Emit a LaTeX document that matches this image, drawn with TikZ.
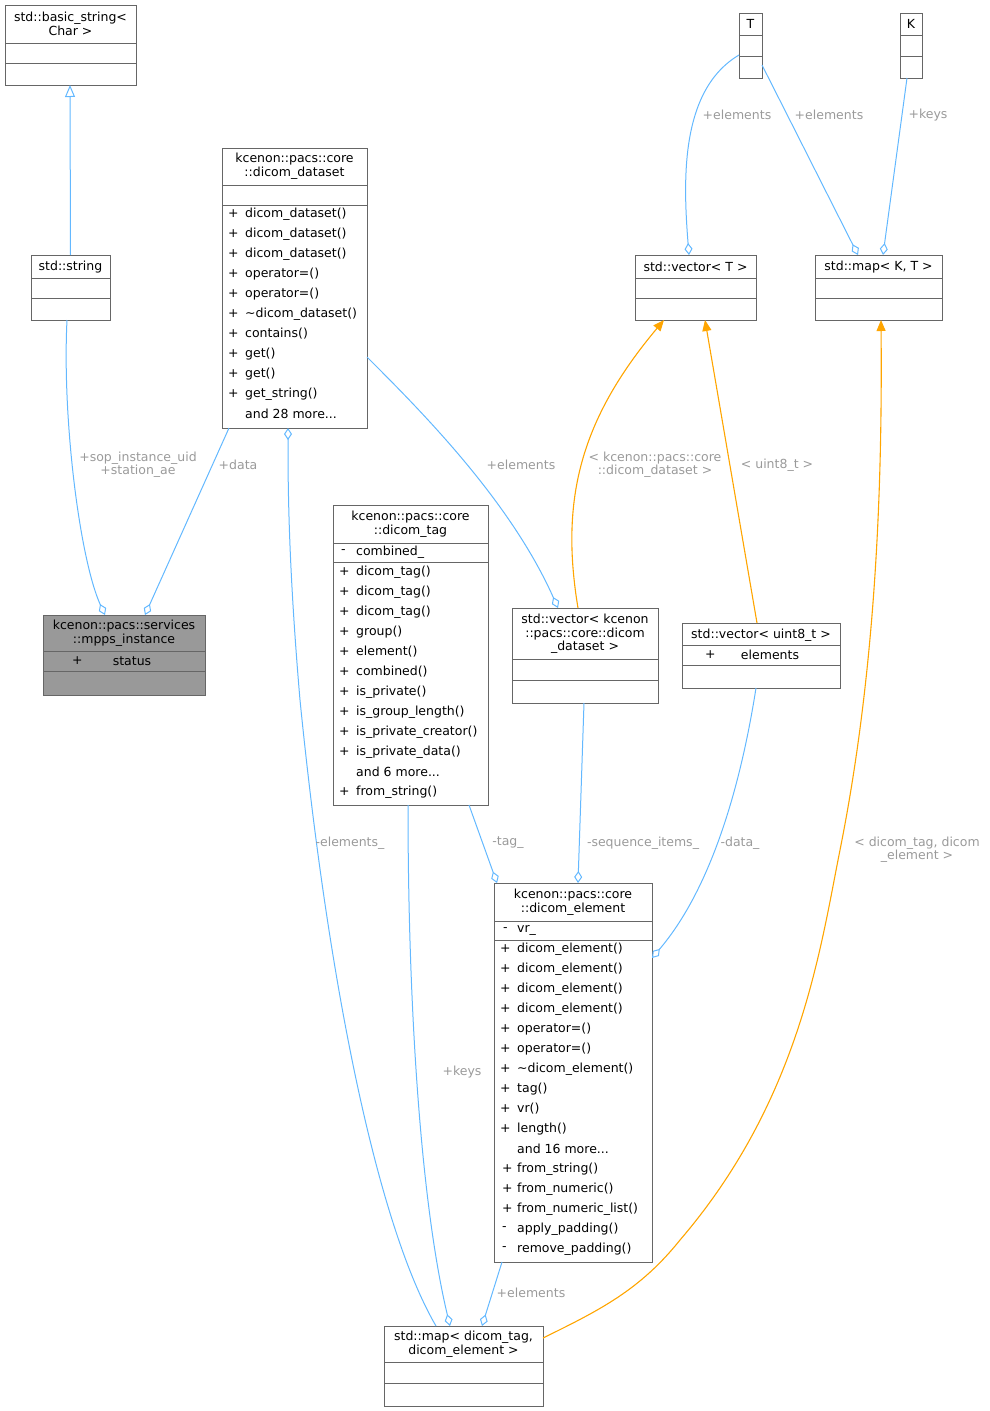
\documentclass[tikz,border=0pt]{standalone}
\usepackage{fontspec}
\setmainfont{DejaVu Sans}
\usetikzlibrary{arrows.meta}
\definecolor{edgeblue}{HTML}{63B8FF}
\definecolor{edgeorange}{HTML}{FFA500}
\definecolor{boxline}{HTML}{666666}
\definecolor{lbl}{HTML}{9A9A9A}
\begin{document}
\begin{tikzpicture}[x=1pt,y=-1pt,
  box/.style={draw=boxline,line width=1pt,anchor=north west,inner sep=0,outer sep=0},
  t/.style={font=\fontsize{12.5}{13.5}\selectfont,inner sep=0,align=center},
  m/.style={font=\fontsize{12.5}{13.5}\selectfont,inner sep=0,anchor=west},
  lab/.style={font=\fontsize{12.5}{13}\selectfont,text=lbl,inner sep=0,align=center},
  agg/.style={draw=edgeblue,line width=1pt,-{Diamond[open,length=12pt,width=8pt]}},
  tmpl/.style={draw=edgeorange,line width=1.1pt,-{Triangle[length=11pt,width=9pt]}},
  inh/.style={draw=edgeblue,line width=1pt,-{Triangle[open,length=12pt,width=10pt]}}]
\useasboundingbox (0,0) rectangle (989,1411);
\newcommand{\ubox}[6][white]{% fill name x y w h
  \node[box,fill=#1,minimum width=#5pt,minimum height=#6pt] (#2) at (#3,#4) {};}
\newcommand{\hsep}[3]{\draw[boxline,line width=1pt] (#1,#3) -- (#2,#3);}
% basic_string
\ubox{bs}{5}{5}{131}{80}
\node[t] (bst) at (70.5,24) {std::basic\_string<\\Char >};
\hsep{5}{136}{43}\hsep{5}{136}{63}
% std::string
\ubox{str}{31}{255}{79}{65}
\node[t] (strt) at (70.5,267) {std::string};
\hsep{31}{110}{278}\hsep{31}{110}{298}
% mpps
\ubox[gray!80]{mpps}{43}{615}{162}{80}
\node[t] (mppst) at (124,633) {kcenon::pacs::services\\::mpps\_instance};
\hsep{43}{205}{651}\hsep{43}{205}{671}
\node[m] (mppsp) at (72,661) {+};
\node[t] (mppss) at (132,661) {status};
% dicom_dataset
\ubox{ds}{222}{148}{145}{280}
\node[t] (dst) at (294.5,166) {kcenon::pacs::core\\::dicom\_dataset};
\hsep{222}{367}{185}\hsep{222}{367}{205}
\foreach \s [count=\i from 0] in {dicom\_dataset(),dicom\_dataset(),dicom\_dataset(),operator=(),operator=(),\textasciitilde dicom\_dataset(),contains(),get(),get(),get\_string()}{
  \node[m] (dsp\i) at (228,214+20*\i) {+};
  \node[m] (dsm\i) at (245,214+20*\i) {\s};}
\node[m] (dsmore) at (245,414) {and 28 more...};
% dicom_tag
\ubox{tag}{333}{505}{155}{300}
\node[t] (tagt) at (410.5,524) {kcenon::pacs::core\\::dicom\_tag};
\hsep{333}{488}{543}\hsep{333}{488}{562}
\node[m] (tagvp) at (341,552) {-};
\node[m] (tagv) at (356,552) {combined\_};
\foreach \s [count=\i from 0] in {dicom\_tag(),dicom\_tag(),dicom\_tag(),group(),element(),combined(),is\_private(),is\_group\_length(),is\_private\_creator(),is\_private\_data()}{
  \node[m] (tagp\i) at (339,572+20*\i) {+};
  \node[m] (tagm\i) at (356,572+20*\i) {\s};}
\node[m] (tagmore) at (356,772) {and 6 more...};
\node[m] (tagfp) at (339,792) {+};
\node[m] (tagf) at (356,792) {from\_string()};
% vector<dicom_dataset>
\ubox{vds}{512}{608}{146}{95}
\node[t] (vdst) at (585,634) {std::vector< kcenon\\::pacs::core::dicom\\\_dataset >};
\hsep{512}{658}{659}\hsep{512}{658}{680}
% vector<uint8_t>
\ubox{vu}{682}{623}{158}{65}
\node[t] (vut) at (761,635) {std::vector< uint8\_t >};
\hsep{682}{840}{645}\hsep{682}{840}{665}
\node[m] (vup) at (705,655) {+};
\node[t] (vue) at (770,655) {elements};
% dicom_element
\ubox{el}{494}{883}{158}{379}
\node[t] (elt) at (573,902) {kcenon::pacs::core\\::dicom\_element};
\hsep{494}{652}{921}\hsep{494}{652}{940}
\node[m] (elvp) at (503,930) {-};
\node[m] (elv) at (517,930) {vr\_};
\foreach \s [count=\i from 0] in {dicom\_element(),dicom\_element(),dicom\_element(),dicom\_element(),operator=(),operator=(),\textasciitilde dicom\_element(),tag(),vr(),length()}{
  \node[m] (elp\i) at (500,949+20*\i) {+};
  \node[m] (elm\i) at (517,949+20*\i) {\s};}
\node[m] (elmore) at (517,1149) {and 16 more...};
\foreach \s/\c [count=\i from 0] in {from\_string()/+,from\_numeric()/+,from\_numeric\_list()/+,apply\_padding()/-,remove\_padding()/-}{
  \node[m] (elqp\i) at (502,1169+20*\i) {\c};
  \node[m] (elq\i) at (517,1169+20*\i) {\s};}
% map<dicom_tag,dicom_element>
\ubox{mp}{384}{1326}{159}{80}
\node[t] (mpt) at (463.5,1344) {std::map< dicom\_tag,\\dicom\_element >};
\hsep{384}{543}{1362}\hsep{384}{543}{1383}
% T
\ubox{T}{739}{13}{23}{65}
\node[t] (Tt) at (750.5,24) {T};
\hsep{739}{762}{35}\hsep{739}{762}{56}
% K
\ubox{K}{900}{13}{22}{65}
\node[t] (Kt) at (911,24) {K};
\hsep{900}{922}{35}\hsep{900}{922}{56}
% vector<T>
\ubox{vT}{635}{255}{121}{65}
\node[t] (vTt) at (695.5,267) {std::vector< T >};
\hsep{635}{756}{278}\hsep{635}{756}{298}
% map<K,T>
\ubox{mKT}{815}{255}{127}{65}
\node[t] (mKTt) at (878.5,267) {std::map< K, T >};
\hsep{815}{942}{278}\hsep{815}{942}{298}
% edges
\draw[inh] ([xshift=39.5pt]str.north west) -- ([xshift=65pt]bs.south west);
\draw[agg] ([xshift=36pt]str.south west) .. controls (62,420) and (80,560) .. ([xshift=62pt]mpps.north west);
\node[lab] (l1) at (138,465) {+sop\_instance\_uid\\+station\_ae};
\draw[agg] ([xshift=7pt]ds.south west) -- ([xshift=102pt]mpps.north west);
\node[lab] (l2) at (238,465) {+data};
\draw[agg] ([yshift=71pt]ds.south east) .. controls (420,410) and (510,500) .. ([xshift=46pt]vds.north west);
\node[lab] (l3) at (521,465) {+elements};
\draw[agg] ([xshift=52pt]mp.north west) .. controls (380,1230) and (330,1000) .. (300,700) .. controls (288,560) and (288,480) .. ([xshift=66pt]ds.south west);
\node[lab] (l4) at (350,843) {-elements\_};
\draw[tmpl] ([xshift=66pt]vds.north west) .. controls (560,500) and (580,420) .. ([xshift=29pt]vT.south west);
\node[lab] (l5) at (655,465) {< kcenon::pacs::core\\::dicom\_dataset >};
\draw[tmpl] ([xshift=75pt]vu.north west) -- ([xshift=70pt]vT.south west);
\node[lab] (l6) at (777,465) {< uint8\_t >};
\draw[agg] ([yshift=-42pt]T.north west) .. controls (680,90) and (683,180) .. ([xshift=54pt]vT.north west);
\node[lab] (l7) at (737,115) {+elements};
\draw[agg] ([yshift=-52pt]T.north east) -- ([xshift=43pt]mKT.north west);
\node[lab] (l8) at (829,115) {+elements};
\draw[agg] ([xshift=7pt]K.south west) -- ([xshift=68pt]mKT.north west);
\node[lab] (l9) at (928,115) {+keys};
\draw[tmpl] (mp.east |- 0,1338) .. controls (600,1310) and (640,1290) .. (680,1240) .. controls (800,1100) and (820,950) .. (840,850) .. controls (880,650) and (882,450) .. ([xshift=66pt]mKT.south west);
\node[lab] (l10) at (917,850) {< dicom\_tag, dicom\\\_element >};
\draw[agg] ([xshift=72pt]vds.south west) -- ([xshift=84pt]el.north west);
\node[lab] (l11) at (643,843) {-sequence\_items\_};
\draw[agg] ([xshift=136pt]tag.south west) -- ([xshift=3pt]el.north west);
\node[lab] (l12) at (508,843) {-tag\_};
\draw[agg] ([xshift=74pt]vu.south west) .. controls (740,790) and (710,890) .. ([yshift=-75pt]el.north east);
\node[lab] (l13) at (740,843) {-data\_};
\draw[agg] ([xshift=75pt]tag.south west) .. controls (408,1000) and (420,1200) .. ([xshift=66pt]mp.north west);
\node[lab] (l14) at (462,1072) {+keys};
\draw[agg] ([xshift=8pt]el.south west) -- ([xshift=98pt]mp.north west);
\node[lab] (l15) at (531,1293) {+elements};
\end{tikzpicture}
\end{document}
